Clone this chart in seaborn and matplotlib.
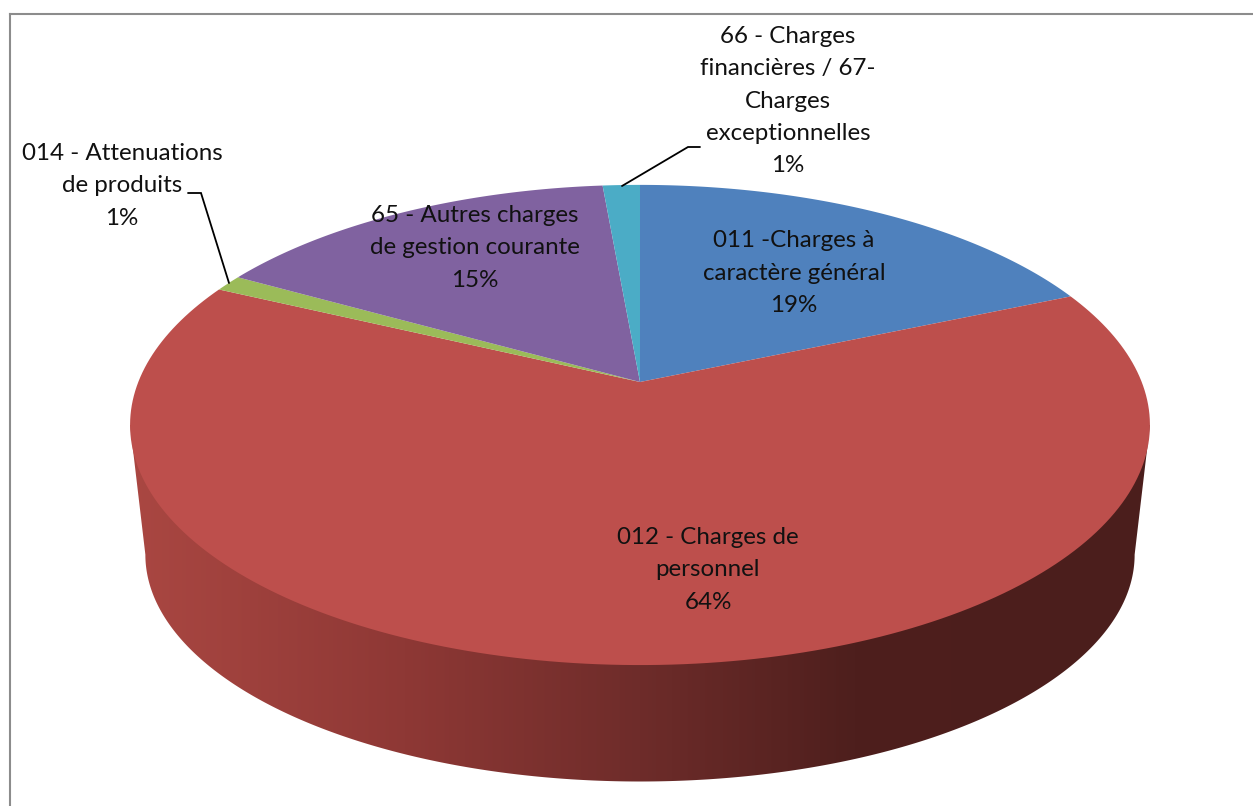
#!/usr/bin/env python
# coding=utf-8
import numpy as np
import matplotlib
matplotlib.use('Agg')
import matplotlib.pyplot as plt
from matplotlib.colors import LinearSegmentedColormap
from matplotlib.patches import Polygon
import seaborn as sns

# data (the labels show them rounded)
names = ['011 -Charges à\ncaractère général',
         '012 - Charges de\npersonnel',
         '014 - Attenuations\nde produits',
         '65 - Autres charges\nde gestion courante',
         '66 - Charges\nfinancières / 67-\nCharges\nexceptionnelles']
values = [18.55, 63.5, 1.1, 15.45, 1.4]
colors = ['#4F81BD', '#BD4F4C', '#9BBB59', '#8062A0', '#4BACC6']

# label centres and leader lines, in pixels
label_x = [794, 708, 122, 475, 788]
label_y = [273, 570, 186, 248, 101]
leader_014 = ([188, 201, 229], [193, 193, 283])
leader_66 = ([700, 688, 622], [147, 147, 186])

# shading of the side wall from left to right
wall_stops = [(0.0, '#AA4742'), (0.27, '#8E3835'), (0.5, '#6E2C2A'),
              (0.71, '#4E1F1D'), (1.0, '#4B1E1C')]

# perspective of the disc
CX, APEX_Y = 640, 382
R, C, K = 501.7, 232.4, 0.179
LOW_SX, LOW_SY, LOW_APEX_Y = 0.97, 0.945, 514


def rim(theta):
    # theta in radians, maps the unit circle onto the tilted disc
    d = 1 + K * np.sin(theta)
    return R * np.cos(theta) / d, C * np.sin(theta) / d


sns.set_theme(style='white')
plt.rcParams['font.family'] = ['Lato', 'DejaVu Sans']

W, H = 1253, 806
fig = plt.figure(figsize=(W / 100, H / 100), dpi=100)
ax = fig.add_axes([10 / W, 0, 1 - 10 / W, 1 - 14 / H])

# side wall: a horizontal gradient clipped to the lower outline
t = np.linspace(np.pi + np.arcsin(K), 2 * np.pi - np.arcsin(K), 300)
lx, ly = rim(t)
low_x = CX + LOW_SX * lx
low_y = LOW_APEX_Y - LOW_SY * ly
top_xl, top_yl = rim(np.array([np.pi + np.arcsin(K), 2 * np.pi - np.arcsin(K)]))
outline = np.column_stack([
    np.r_[CX + top_xl[0], low_x, CX + top_xl[1]],
    np.r_[APEX_Y - top_yl[0], low_y, APEX_Y - top_yl[1]]])
cmap = LinearSegmentedColormap.from_list('wall', wall_stops)
grad = ax.imshow(np.linspace(0, 1, 512)[None, :], cmap=cmap, aspect='auto',
                 extent=(outline[:, 0].min(), outline[:, 0].max(), 790, 400),
                 zorder=1)
clip = Polygon(outline, closed=True, transform=ax.transData)
grad.set_clip_path(clip)

# top face, clockwise from 12 o'clock
ends = np.cumsum(values) / np.sum(values)
starts = np.r_[0, ends[:-1]]
for start, end, col in zip(starts, ends, colors):
    th = np.pi / 2 - 2 * np.pi * np.linspace(start, end, 200)
    x, y = rim(th)
    ax.fill(np.r_[CX, CX + x], np.r_[APEX_Y, APEX_Y - y], color=col, lw=0, zorder=2)

for name, val, x, y in zip(names, values, label_x, label_y):
    ax.text(x, y, f'{name}\n{val:.0f}%', ha='center', va='center', fontsize=17.4,
            linespacing=1.65, color='#111111', zorder=4)

for lead_x, lead_y in (leader_014, leader_66):
    ax.plot(lead_x, lead_y, color='black', lw=1.3, zorder=3, solid_joinstyle='miter')

ax.set_xlim(10, W)
ax.set_ylim(H, 14)
ax.set_xticks([])
ax.set_yticks([])
for side in ('right', 'bottom'):
    ax.spines[side].set_visible(False)
for side in ('left', 'top'):
    ax.spines[side].set_color('#8C8C8C')
    ax.spines[side].set_linewidth(1.5)

plt.savefig('out.png', dpi=100)
